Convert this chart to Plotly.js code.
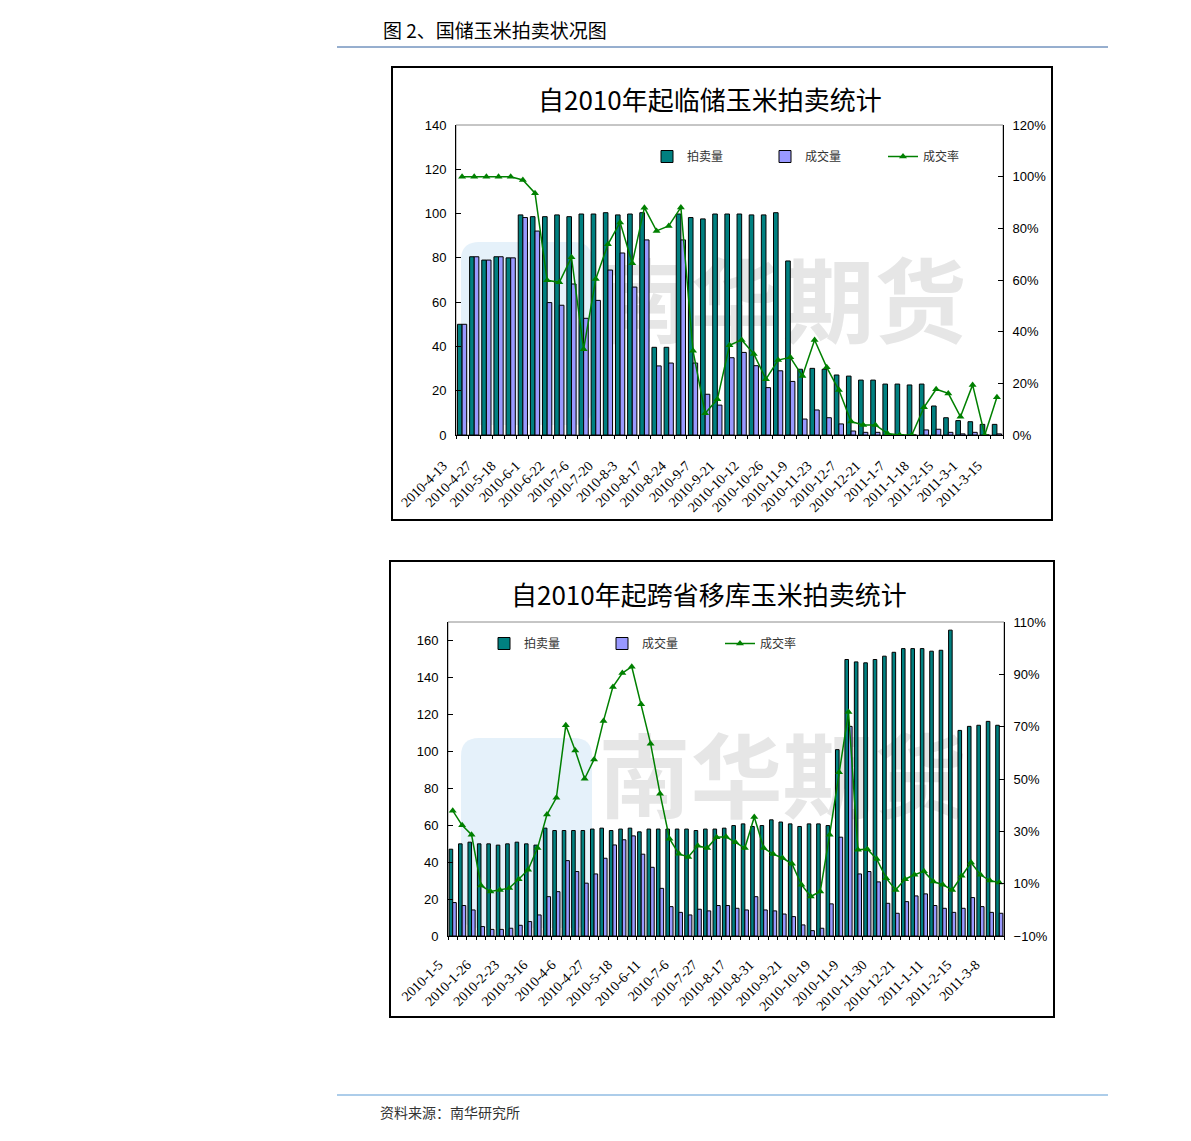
<!DOCTYPE html>
<html>
<head>
<meta charset="utf-8">
<script src="https://cdn.plot.ly/plotly-3.0.1.min.js"></script>
<style>
  html, body { margin: 0; padding: 0; background: #fff; }
  #chart { width: 1191px; height: 1141px; }
</style>
</head>
<body>
<div id="chart"></div>
<script>
// ---------- Data: 临储玉米 (top chart) ----------
const topDates = [
  "2010-4-13","2010-4-20","2010-4-27","2010-5-11","2010-5-18","2010-5-25","2010-6-1","2010-6-8",
  "2010-6-22","2010-6-29","2010-7-6","2010-7-13","2010-7-20","2010-7-27","2010-8-3","2010-8-10",
  "2010-8-17","2010-8-19","2010-8-24","2010-8-31","2010-9-7","2010-9-14","2010-9-21","2010-9-28",
  "2010-10-12","2010-10-19","2010-10-26","2010-11-2","2010-11-9","2010-11-16","2010-11-23","2010-11-30",
  "2010-12-7","2010-12-14","2010-12-21","2010-12-28","2011-1-7","2011-1-11","2011-1-18","2011-1-25",
  "2011-2-15","2011-2-22","2011-3-1","2011-3-8","2011-3-15"
];
const topTickLabels = [
  "2010-4-13","2010-4-27","2010-5-18","2010-6-1","2010-6-22","2010-7-6","2010-7-20","2010-8-3",
  "2010-8-17","2010-8-24","2010-9-7","2010-9-21","2010-10-12","2010-10-26","2010-11-9","2010-11-23",
  "2010-12-7","2010-12-21","2011-1-7","2011-1-18","2011-2-15","2011-3-1","2011-3-15"
];
const topAuction = [50,80.5,79,80.5,80,99.4,98.6,98.6,99.4,98.6,99.8,99.8,100.4,99.4,99.8,100.4,
  39.6,39.6,99.8,98.2,97.6,99.8,99.8,99.8,99.4,99.4,100.4,78.6,29.7,30.1,29.7,27.1,26.6,24.8,24.8,
  23,23,22.6,23,13.1,7.8,6.5,6,4.8,4.8];
const topDeal = [50,80.5,79,80.5,80,98.2,92.1,59.8,58.6,68.2,52.7,60.8,74.5,82.2,66.8,88.1,
  31.2,32.5,88.1,32.5,18.4,13.5,34.9,37.3,31.3,21.4,29,24.2,7.2,11.3,7.8,5,1.8,1.2,1.2,
  0.2,0,0,2.3,2.6,1.2,0.5,1.2,0,0.5];
const topRate = [100,100,100,100,100,98.7,93.6,59.9,59.1,68.8,33.2,60.4,73.8,82.3,66.5,88,
  79,80.9,88.1,32.6,8.4,13.8,34.7,36.8,31.4,21.6,29,30.1,22.8,36.8,26.2,17.4,5.2,3.9,3.9,
  0.6,0,0,10.7,17.7,16.1,7.1,19.4,0,14.6];

// ---------- Data: 跨省移库玉米 (bottom chart) ----------
const botDates = [
  "2010-1-5","2010-1-12","2010-1-19","2010-1-26","2010-2-2","2010-2-9","2010-2-23","2010-3-2",
  "2010-3-9","2010-3-16","2010-3-23","2010-3-30","2010-4-6","2010-4-13","2010-4-20","2010-4-27",
  "2010-5-4","2010-5-11","2010-5-18","2010-5-25","2010-6-1","2010-6-11","2010-6-22","2010-6-29",
  "2010-7-6","2010-7-13","2010-7-20","2010-7-27","2010-8-3","2010-8-10","2010-8-17","2010-8-24",
  "2010-8-26","2010-8-31","2010-9-7","2010-9-14","2010-9-21","2010-9-28","2010-10-12","2010-10-19",
  "2010-10-26","2010-11-2","2010-11-9","2010-11-16","2010-11-23","2010-11-30","2010-12-7","2010-12-14",
  "2010-12-21","2010-12-28","2011-1-4","2011-1-11","2011-1-18","2011-1-25","2011-2-15","2011-2-22",
  "2011-3-1","2011-3-8","2011-3-15"
];
const botTickLabels = [
  "2010-1-5","2010-1-26","2010-2-23","2010-3-16","2010-4-6","2010-4-27","2010-5-18","2010-6-11",
  "2010-7-6","2010-7-27","2010-8-17","2010-8-31","2010-9-21","2010-10-19","2010-11-9","2010-11-30",
  "2010-12-21","2011-1-11","2011-2-15","2011-3-8"
];
const botAuction = [47.0,49.9,50.8,49.9,49.9,49.2,49.9,50.8,49.9,49.2,58.4,57.1,57.1,57.1,57.1,57.9,
  58.4,57.1,57.9,58.4,56.4,57.9,57.9,57.9,57.9,57.9,57.1,57.9,57.9,58.4,59.8,60.7,59.3,59.8,62.9,
  61.7,60.7,59.3,60.7,60.7,59.8,100.9,149.7,148.4,147.9,149.7,151.5,153.6,155.6,155.6,155.6,154.2,
  154.7,165.6,111.3,113.5,114.1,116.2,114.1];
const botDeal = [18.1,16.5,14.1,5.1,3.6,3.6,4.2,5.8,7.8,11.4,21.3,24.0,40.8,34.9,28.6,33.6,
  42.1,49.3,52.1,54.2,44.3,37.2,25.8,15.9,12.8,11.4,14.5,13.6,16.5,16.5,15.0,14.1,21.3,14.1,13.6,
  11.9,10.5,6.0,2.9,4.2,17.4,53.5,113.5,33.6,34.9,29.3,17.7,12.3,18.6,21.7,22.8,16.5,15.0,12.8,
  15.0,20.8,15.9,12.8,12.3];
const botRate = [37.9,32.3,28.7,9.3,7.0,7.6,8.3,11.7,15.3,23.6,36.4,42.8,70.5,60.9,50.1,57.5,
  72.2,85.2,90.5,92.9,78.6,63.5,44.4,27.2,21.4,20.2,24.5,23.6,27.7,27.9,25.8,23.6,35.5,23.6,21.3,
  19.8,17.6,9.6,5.1,7.0,28.7,52.6,75.6,23,23.2,19.4,12.1,7.6,11.7,13.4,14.7,10.8,9.6,7.6,13,
  18.1,13.4,11.2,10.4];

const seriesNames = ["拍卖量", "成交量", "成交率"];

// ---------- styling ----------
const W = 1191, H = 1141;
const px = x => x / W;
const py = y => 1 - y / H;
const TEAL = "#008080", PURPLE = "#9999FF", GREEN = "#008000";
const CJK = "Noto Sans CJK SC";

function ticktextFor(cats, labels) {
  return cats.map(c => labels.includes(c) ? c : "");
}

const traces = [
  { type: "bar", name: seriesNames[0], x: topDates, y: topAuction, xaxis: "x", yaxis: "y",
    marker: { color: TEAL, line: { color: "#000", width: 1 } }, legend: "legend" },
  { type: "bar", name: seriesNames[1], x: topDates, y: topDeal, xaxis: "x", yaxis: "y",
    marker: { color: PURPLE, line: { color: "#000", width: 1 } }, legend: "legend" },
  { type: "scatter", mode: "lines+markers", name: seriesNames[2], x: topDates, y: topRate,
    xaxis: "x", yaxis: "y2", line: { color: GREEN, width: 1.5 },
    marker: { symbol: "triangle-up", size: 7, color: GREEN }, legend: "legend" },

  { type: "bar", name: seriesNames[0], x: botDates, y: botAuction, xaxis: "x2", yaxis: "y3",
    marker: { color: TEAL, line: { color: "#000", width: 1 } }, legend: "legend2" },
  { type: "bar", name: seriesNames[1], x: botDates, y: botDeal, xaxis: "x2", yaxis: "y3",
    marker: { color: PURPLE, line: { color: "#000", width: 1 } }, legend: "legend2" },
  { type: "scatter", mode: "lines+markers", name: seriesNames[2], x: botDates, y: botRate,
    xaxis: "x2", yaxis: "y4", line: { color: GREEN, width: 1.5 },
    marker: { symbol: "triangle-up", size: 7, color: GREEN }, legend: "legend2" }
];

const numFont = { family: "Liberation Sans, Arial, sans-serif", size: 13, color: "#000" };
const dateFont = { family: "Liberation Serif, Times New Roman, serif", size: 14, color: "#000" };

const commonY = {
  showgrid: false, zeroline: false, showline: true, linecolor: "#000", linewidth: 1,
  ticks: "inside", ticklen: 5, tickcolor: "#000", tickfont: numFont, fixedrange: true,
  ticklabelstandoff: 6
};
const commonX = {
  type: "category", showgrid: false, zeroline: false, showline: true, linecolor: "#000",
  linewidth: 1, ticks: "outside", ticklen: 3, tickcolor: "#000", tickangle: -45,
  tickfont: dateFont, tickmode: "array", fixedrange: true
};

const frames = [
  [392, 67, 1052, 520],
  [390, 561, 1054, 1017]
];
const plots = [
  [456, 125, 1003, 435],
  [448, 622, 1004, 936]
];

function roundRect(x0, y0, x1, y1, r) {
  const X0 = px(x0), X1 = px(x1), Y0 = py(y0), Y1 = py(y1);
  const rx = r / W, ry = r / H;
  return `M${X0 + rx},${Y0} L${X1 - rx},${Y0} Q${X1},${Y0} ${X1},${Y0 - ry} L${X1},${Y1 + ry} ` +
         `Q${X1},${Y1} ${X1 - rx},${Y1} L${X0 + rx},${Y1} Q${X0},${Y1} ${X0},${Y1 + ry} ` +
         `L${X0},${Y0 - ry} Q${X0},${Y0} ${X0 + rx},${Y0} Z`;
}

const shapes = [];
frames.forEach(f => shapes.push({
  type: "rect", xref: "paper", yref: "paper", x0: px(f[0]), x1: px(f[2]), y0: py(f[3]), y1: py(f[1]),
  line: { color: "#000", width: 2 }, fillcolor: "rgba(0,0,0,0)", layer: "above"
}));
plots.forEach(p => shapes.push({
  type: "rect", xref: "paper", yref: "paper", x0: px(p[0]), x1: px(p[2]), y0: py(p[3]), y1: py(p[1]),
  line: { color: "#8c8c8c", width: 1 }, fillcolor: "rgba(0,0,0,0)", layer: "below"
}));
// header / footer rules
shapes.push({ type: "line", xref: "paper", yref: "paper", x0: px(337), x1: px(1108), y0: py(47), y1: py(47),
  line: { color: "#2e5e9e", width: 1 } });
shapes.push({ type: "line", xref: "paper", yref: "paper", x0: px(337), x1: px(1108), y0: py(1095), y1: py(1095),
  line: { color: "#5b9bd5", width: 1 } });
// watermarks (logo block + text) below traces
const marks = [[242, 425, 310], [738, 928, 785]];
marks.forEach(m => {
  shapes.push({ type: "path", xref: "paper", yref: "paper", path: roundRect(461, m[0], 592, m[1], 18),
    line: { width: 0 }, fillcolor: "rgba(220,236,248,0.75)", layer: "below" });
  shapes.push({ type: "rect", xref: "paper", yref: "paper", x0: px(600), x1: px(965), y0: py(m[2] + 60), y1: py(m[2] - 60),
    line: { width: 0 }, fillcolor: "rgba(0,0,0,0)", layer: "below",
    label: { text: "南华期货", textposition: "middle center",
      font: { family: CJK, size: 92, color: "rgba(200,200,200,0.45)", weight: 700 } } });
});

const annotations = [
  { text: "图 2、国储玉米拍卖状况图", xref: "paper", yref: "paper", x: px(381), y: py(30),
    xanchor: "left", yanchor: "middle", showarrow: false, font: { family: CJK, size: 19, color: "#000" } },
  { text: "资料来源：南华研究所", xref: "paper", yref: "paper", x: px(378), y: py(1112),
    xanchor: "left", yanchor: "middle", showarrow: false, font: { family: CJK, size: 14, color: "#333" } },
  { text: "自2010年起临储玉米拍卖统计", xref: "paper", yref: "paper", x: px(710), y: py(99),
    xanchor: "center", yanchor: "middle", showarrow: false, font: { family: CJK, size: 26, color: "#000" } },
  { text: "自2010年起跨省移库玉米拍卖统计", xref: "paper", yref: "paper", x: px(709), y: py(593),
    xanchor: "center", yanchor: "middle", showarrow: false, font: { family: CJK, size: 26, color: "#000" } }
];

const legendCommon = {
  orientation: "h", xanchor: "left", yanchor: "top", bgcolor: "rgba(0,0,0,0)",
  font: { family: CJK, size: 12, color: "#333" }, entrywidth: 73, entrywidthmode: "pixels",
  itemclick: false, itemdoubleclick: false
};

const layout = {
  width: W, height: H,
  margin: { l: 0, r: 0, t: 0, b: 0, pad: 0 },
  paper_bgcolor: "#fff", plot_bgcolor: "rgba(0,0,0,0)",
  barmode: "group", bargap: 0.24, bargroupgap: 0,
  showlegend: true,
  legend: Object.assign({}, legendCommon, { x: px(647), y: py(142) }),
  legend2: Object.assign({}, legendCommon, { x: px(484), y: py(629) }),
  xaxis: Object.assign({}, commonX, {
    domain: [px(456), px(1003)], anchor: "y", range: [-0.5, topDates.length - 0.5],
    tickvals: topDates, ticktext: ticktextFor(topDates, topTickLabels), tickson: "boundaries",
    ticklabelshift: -19, ticklabelstandoff: 16
  }),
  yaxis: Object.assign({}, commonY, {
    domain: [py(435), py(125)], anchor: "x", range: [0, 140], dtick: 20, tick0: 0
  }),
  yaxis2: Object.assign({}, commonY, {
    overlaying: "y", side: "right", anchor: "x", range: [0, 120], dtick: 20, tick0: 0, ticksuffix: "%"
  }),
  xaxis2: Object.assign({}, commonX, {
    domain: [px(448), px(1004)], anchor: "y3", range: [-0.5, botDates.length - 0.5],
    tickvals: botDates, ticktext: ticktextFor(botDates, botTickLabels), tickson: "boundaries",
    ticklabelshift: -14, ticklabelstandoff: 14
  }),
  yaxis3: Object.assign({}, commonY, {
    domain: [py(936), py(622)], anchor: "x2", range: [0, 170], tickmode: "linear", dtick: 20, tick0: 0
  }),
  yaxis4: Object.assign({}, commonY, {
    overlaying: "y3", side: "right", anchor: "x2", range: [-10, 110], dtick: 20, tick0: -10, ticksuffix: "%"
  }),
  shapes: shapes,
  annotations: annotations,
  hovermode: false
};

Plotly.newPlot("chart", traces, layout, { displayModeBar: false, staticPlot: true });
</script>
</body>
</html>
